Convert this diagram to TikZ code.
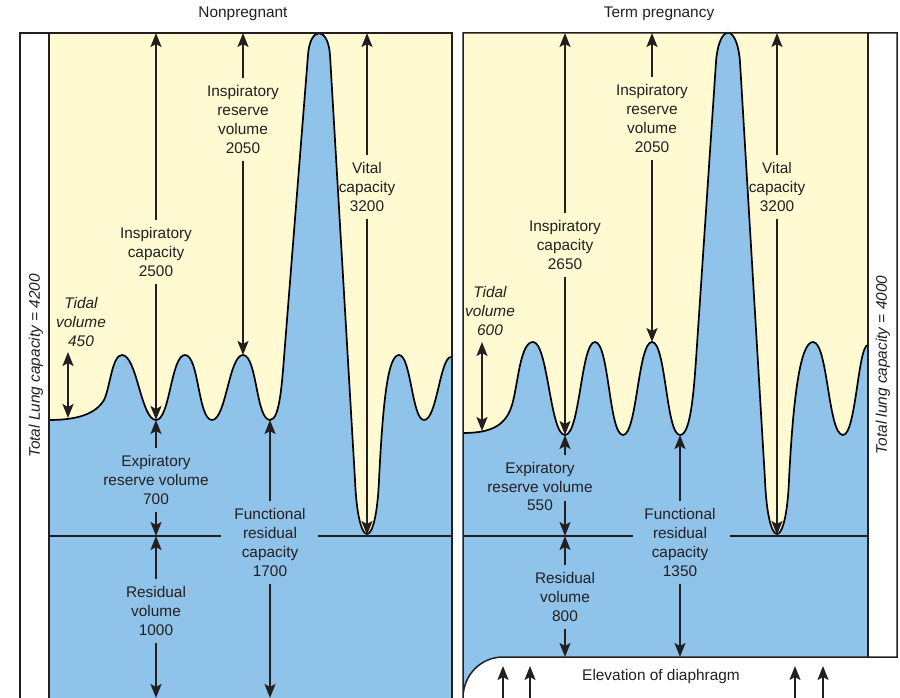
\documentclass[tikz,border=0pt]{standalone}
\usepackage{fontspec}
\setmainfont{Liberation Sans}
\usetikzlibrary{arrows.meta}
\definecolor{lyellow}{RGB}{255,250,210}
\definecolor{lblue}{RGB}{143,195,234}
\definecolor{ink}{RGB}{35,31,32}
\tikzset{
  lbl/.style={align=center, font=\fontsize{15.4}{18.8}\selectfont, text=ink, inner xsep=3pt, inner ysep=7pt},
  ilbl/.style={lbl, font=\fontsize{15.4}{18.8}\selectfont\itshape},
  arr/.style={draw=ink, line width=1.5pt, -{Stealth[length=14pt,width=11pt,inset=3pt]}},
  arrb/.style={draw=ink, line width=1.5pt, {Stealth[length=14pt,width=11pt,inset=3pt]}-{Stealth[length=14pt,width=11pt,inset=3pt]}},
  border/.style={draw=ink, line width=1.5pt},
  wave/.style={draw=black, line width=1.7pt, line join=round},
}
\begin{document}
\begin{tikzpicture}[x=1pt,y=-1pt]
\useasboundingbox (0,0) rectangle (900,698);

% ---------------- left panel ----------------
\fill[lyellow] (49,33) rectangle (452,698);
\fill[lblue] (49,698) -- (49,420)
 .. controls (75,420) and (95,415) .. (104,400) .. controls (110,388) and (112,355) .. (122,355)
 .. controls (137,355) and (141,420) .. (156,420)
 .. controls (170,420) and (171,355) .. (185,355)
 .. controls (199,355) and (198,420) .. (212,420)
 .. controls (226,420) and (229,355) .. (243,355)
 .. controls (257,355) and (256,420) .. (270,420)
 .. controls (280,420) and (282,383) .. (285,345) -- (308,55)
 .. controls (310,26) and (328,26) .. (330,55) -- (355,480)
 .. controls (358,552) and (376,552) .. (379,480)
 .. controls (383,400) and (388,355) .. (399,355)
 .. controls (411,355) and (412,420) .. (424,420)
 .. controls (437,420) and (440,357) .. (451,357) -- (451,698) -- cycle;
\draw[wave] (49,420)
 .. controls (75,420) and (95,415) .. (104,400) .. controls (110,388) and (112,355) .. (122,355)
 .. controls (137,355) and (141,420) .. (156,420)
 .. controls (170,420) and (171,355) .. (185,355)
 .. controls (199,355) and (198,420) .. (212,420)
 .. controls (226,420) and (229,355) .. (243,355)
 .. controls (257,355) and (256,420) .. (270,420)
 .. controls (280,420) and (282,383) .. (285,345) -- (308,55)
 .. controls (310,26) and (328,26) .. (330,55) -- (355,480)
 .. controls (358,552) and (376,552) .. (379,480)
 .. controls (383,400) and (388,355) .. (399,355)
 .. controls (411,355) and (412,420) .. (424,420)
 .. controls (437,420) and (440,357) .. (451,357);
\draw[border] (49,536) -- (221,536) (318,536) -- (451,536);
\draw[border] (20,700) -- (20,33) -- (452,33) -- (452,700);
\draw[border] (49,33) -- (49,700);

% ---------------- right panel ----------------
\fill[lyellow] (463,33) rectangle (868,657);
\fill[lblue] (463,698) -- (463,433)
 .. controls (492,433) and (506,425) .. (512,405) .. controls (518,385) and (520,342) .. (533,342)
 .. controls (548,342) and (550,435) .. (565,435)
 .. controls (580,435) and (581,342) .. (595,342)
 .. controls (609,342) and (609,435) .. (623,435)
 .. controls (637,435) and (638,342) .. (652,342)
 .. controls (666,342) and (666,435) .. (680,435)
 .. controls (691,435) and (694,390) .. (697,345) -- (716,62)
 .. controls (719,23) and (737,23) .. (740,62) -- (765,480)
 .. controls (768,552) and (786,552) .. (789,480)
 .. controls (793,400) and (800,342) .. (813,342)
 .. controls (828,342) and (828,435) .. (843,435)
 .. controls (856,435) and (858,345) .. (868,345) -- (868,657) -- (503,657)
 .. controls (481,657) and (463,675) .. (463,697) -- cycle;
\draw[wave] (463,433)
 .. controls (492,433) and (506,425) .. (512,405) .. controls (518,385) and (520,342) .. (533,342)
 .. controls (548,342) and (550,435) .. (565,435)
 .. controls (580,435) and (581,342) .. (595,342)
 .. controls (609,342) and (609,435) .. (623,435)
 .. controls (637,435) and (638,342) .. (652,342)
 .. controls (666,342) and (666,435) .. (680,435)
 .. controls (691,435) and (694,390) .. (697,345) -- (716,62)
 .. controls (719,23) and (737,23) .. (740,62) -- (765,480)
 .. controls (768,552) and (786,552) .. (789,480)
 .. controls (793,400) and (800,342) .. (813,342)
 .. controls (828,342) and (828,435) .. (843,435)
 .. controls (856,435) and (858,345) .. (868,345);
\draw[border] (463,536) -- (633,536) (730,536) -- (868,536);
\draw[border] (463,700) -- (463,33) -- (897,33) -- (897,657) -- (503,657)
 .. controls (481,657) and (463,675) .. (463,698);
\draw[border] (868,33) -- (868,657);

% ---------------- titles & side labels ----------------
\node[lbl] (ttl1) at (243,14) {Nonpregnant};
\node[lbl] (ttl2) at (659,14) {Term pregnancy};
\node[ilbl, rotate=90] (tlc1) at (36,366) {Total Lung capacity = 4200};
\node[ilbl, rotate=90] (tlc2) at (883,365) {Total lung capacity = 4000};

% ---------------- left labels & arrows ----------------
\node[ilbl] (tv1) at (81,322) {Tidal\\volume\\450};
\coordinate (tv1a) at (68,352); \coordinate (tv1b) at (68,418);
\draw[arrb] (tv1a) -- (tv1b);

\node[lbl] (ic1) at (156,252) {Inspiratory\\capacity\\2500};
\coordinate (ic1t) at (156,33); \coordinate (ic1b) at (156,420);
\draw[arr] (ic1) -- (ic1t); \draw[arr] (ic1) -- (ic1b);

\node[lbl] (irv1) at (243,119.5) {Inspiratory\\reserve\\volume\\2050};
\coordinate (irv1t) at (243,33); \coordinate (irv1b) at (243,355);
\draw[arr] (irv1) -- (irv1t); \draw[arr] (irv1) -- (irv1b);

\node[lbl] (vc1) at (367,187) {Vital\\capacity\\3200};
\coordinate (vc1t) at (367,33); \coordinate (vc1b) at (367,535);
\draw[arr] (vc1) -- (vc1t); \draw[arr] (vc1) -- (vc1b);

\node[lbl] (erv1) at (156,480) {Expiratory\\reserve volume\\700};
\coordinate (erv1t) at (156,420); \coordinate (erv1b) at (156,536);
\draw[arr] (erv1) -- (erv1t); \draw[arr] (erv1) -- (erv1b);

\node[lbl] (rv1) at (156,611) {Residual\\volume\\1000};
\coordinate (rv1t) at (156,536); \coordinate (rv1b) at (156,698);
\draw[arr] (rv1) -- (rv1t); \draw[arr] (rv1) -- (rv1b);

\node[lbl] (frc1) at (270,542.5) {Functional\\residual\\capacity\\1700};
\coordinate (frc1t) at (270,420); \coordinate (frc1b) at (270,698);
\draw[arr] (frc1) -- (frc1t); \draw[arr] (frc1) -- (frc1b);

% ---------------- right labels & arrows ----------------
\node[ilbl] (tv2) at (490,311) {Tidal\\volume\\600};
\coordinate (tv2a) at (482,342); \coordinate (tv2b) at (482,431);
\draw[arrb] (tv2a) -- (tv2b);

\node[lbl] (ic2) at (565,245) {Inspiratory\\capacity\\2650};
\coordinate (ic2t) at (565,33); \coordinate (ic2b) at (565,435);
\draw[arr] (ic2) -- (ic2t); \draw[arr] (ic2) -- (ic2b);

\node[lbl] (irv2) at (652,118.5) {Inspiratory\\reserve\\volume\\2050};
\coordinate (irv2t) at (652,33); \coordinate (irv2b) at (652,342);
\draw[arr] (irv2) -- (irv2t); \draw[arr] (irv2) -- (irv2b);

\node[lbl] (vc2) at (777,187) {Vital\\capacity\\3200};
\coordinate (vc2t) at (777,33); \coordinate (vc2b) at (777,535);
\draw[arr] (vc2) -- (vc2t); \draw[arr] (vc2) -- (vc2b);

\node[lbl] (erv2) at (540,486.5) {Expiratory\\reserve volume\\550};
\coordinate (erv2a) at (565,455); \coordinate (erv2t) at (565,435);
\coordinate (erv2c) at (565,501); \coordinate (erv2b) at (565,536);
\draw[arr] (erv2a) -- (erv2t); \draw[arr] (erv2c) -- (erv2b);

\node[lbl] (rv2) at (565,597) {Residual\\volume\\800};
\coordinate (rv2t) at (565,536); \coordinate (rv2b) at (565,657);
\draw[arr] (rv2) -- (rv2t); \draw[arr] (rv2) -- (rv2b);

\node[lbl] (frc2) at (680,542.5) {Functional\\residual\\capacity\\1350};
\coordinate (frc2t) at (680,435); \coordinate (frc2b) at (680,657);
\draw[arr] (frc2) -- (frc2t); \draw[arr] (frc2) -- (frc2b);

% ---------------- diaphragm ----------------
\node[lbl] (dia) at (661,677) {Elevation of diaphragm};
\foreach \i/\xx in {1/503,2/530,3/795,4/823}{
  \coordinate (d\i a) at (\xx,700); \coordinate (d\i b) at (\xx,666);
  \draw[arr] (d\i a) -- (d\i b);
}
\end{tikzpicture}
\end{document}
